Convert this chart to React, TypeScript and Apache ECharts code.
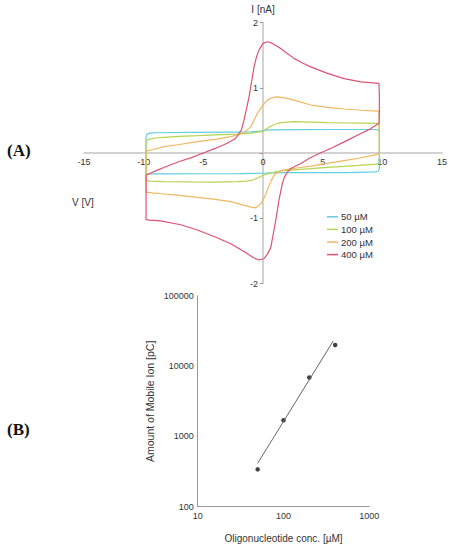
import React, { useEffect, useRef } from "react";
import * as echarts from "echarts";

// Panel A: cyclic voltammograms, [V, I(nA)]
const cv50: [number, number][] = [
  [-9.8, 0.25], [-9.7, 0.29], [-9.5, 0.305], [-9, 0.31], [-6, 0.315], [-3, 0.32], [-1, 0.325],
  [-0.2, 0.335], [0.2, 0.35], [1, 0.355], [3, 0.358], [6, 0.36], [9, 0.36], [9.6, 0.36],
  [9.75, 0.33], [9.75, -0.24], [9.65, -0.28], [9.4, -0.29], [7, -0.3], [4, -0.3], [2, -0.302],
  [0.5, -0.305], [0, -0.31], [-2, -0.315], [-5, -0.318], [-8, -0.32], [-9.6, -0.32], [-9.8, -0.31],
  [-9.8, 0.25],
];
const cv100: [number, number][] = [
  [-9.8, 0.19], [-9.6, 0.21], [-9, 0.23], [-8.3, 0.24], [-7, 0.255], [-5.5, 0.265], [-4, 0.278],
  [-2.2, 0.29], [-1, 0.305], [0, 0.33], [0.3, 0.37], [0.65, 0.41], [1, 0.44], [1.5, 0.465],
  [2.6, 0.48], [4, 0.474], [5.4, 0.465], [7, 0.46], [8.5, 0.457], [9.7, 0.455], [9.75, 0.3],
  [9.75, -0.15], [9.5, -0.17], [8, -0.19], [6.8, -0.205], [5.4, -0.22], [4, -0.24], [2.8, -0.255],
  [2, -0.265], [1.2, -0.28], [0.6, -0.31], [0, -0.34], [-0.4, -0.38], [-0.8, -0.41], [-1.4, -0.43],
  [-2.2, -0.44], [-4, -0.445], [-6, -0.444], [-8.3, -0.44], [-9.5, -0.43], [-9.8, -0.42], [-9.8, 0.19],
];
const cv200: [number, number][] = [
  [-9.8, 0.03], [-9.3, 0.05], [-8.3, 0.097], [-7, 0.13], [-5.5, 0.173], [-4, 0.21], [-2.7, 0.25],
  [-2.1, 0.28], [-1.6, 0.31], [-1.03, 0.4], [-0.47, 0.61], [0, 0.735], [0.37, 0.81], [0.8, 0.85],
  [1.2, 0.86], [1.8, 0.845], [2.6, 0.81], [4, 0.735], [5.4, 0.7], [6.8, 0.674], [8.2, 0.655],
  [9.7, 0.643], [9.75, 0.5], [9.75, -0.01], [9.4, -0.03], [8, -0.08], [6.8, -0.117], [5.4, -0.16],
  [4, -0.2], [2.8, -0.23], [2.05, -0.25], [1.5, -0.27], [1, -0.32], [0.7, -0.42], [0.4, -0.55],
  [0.1, -0.69], [-0.2, -0.78], [-0.6, -0.84], [-1, -0.83], [-1.8, -0.79], [-2.7, -0.745],
  [-4, -0.71], [-5.5, -0.68], [-7, -0.65], [-8.3, -0.628], [-9.3, -0.61], [-9.8, -0.6], [-9.8, 0.03],
];
const cv400: [number, number][] = [
  [-9.8, -0.34], [-9.2, -0.29], [-8, -0.2], [-7, -0.13], [-6, -0.07], [-5, 0], [-4, 0.07],
  [-3, 0.15], [-2.4, 0.21], [-2.1, 0.27], [-1.8, 0.36], [-1.6, 0.5], [-1.4, 0.66], [-1.17, 0.86],
  [-0.95, 1.1], [-0.75, 1.32], [-0.55, 1.47], [-0.33, 1.58], [0, 1.68], [0.37, 1.705], [0.8, 1.68],
  [1.48, 1.6], [2, 1.53], [2.6, 1.45], [3.3, 1.38], [4, 1.32], [5.4, 1.22], [6.8, 1.14], [8.2, 1.09],
  [9.72, 1.067], [9.75, 0.9], [9.75, 0.6], [9.72, 0.455], [9, 0.37], [8.2, 0.3], [6.8, 0.17],
  [5.8, 0.08], [4.8, 0], [4, -0.07], [3.16, -0.16], [2.4, -0.23], [2.05, -0.29], [1.8, -0.37],
  [1.63, -0.46], [1.34, -0.72], [1.1, -1.0], [0.92, -1.18], [0.65, -1.45], [0.37, -1.55],
  [0.08, -1.62], [-0.33, -1.64], [-0.75, -1.61], [-1.6, -1.51], [-2.7, -1.39], [-4.1, -1.28],
  [-5.5, -1.18], [-6.9, -1.1], [-8.58, -1.04], [-9.5, -1.03], [-9.8, -1.02], [-9.8, -0.34],
];
const cvNames = ["50 µM", "100 µM", "200 µM", "400 µM"];
const cvColors = ["#62cde3", "#b5d44f", "#f0b860", "#dd5272"];

// Panel B: log-log
const concentration = [50, 100, 200, 400];
const mobileIon = [340, 1700, 6900, 20100];
const fitLine: [number, number][] = [[50, 415], [380, 22900]];

const font = 'Arial, "Liberation Sans", sans-serif';

export default function App() {
  const ref = useRef<HTMLDivElement>(null);
  useEffect(() => {
    document.body.style.margin = "0";
    const chart = echarts.init(ref.current!, null, { renderer: "svg" });
    const cvData = [cv50, cv100, cv200, cv400];
    const gA = { left: 84, top: 22.5, width: 358, height: 261 };
    const option: any = {
      animation: false,
      textStyle: { fontFamily: font },
      grid: [
        gA,
        { left: 197.7, top: 296, width: 171.6, height: 210.7 },
      ],
      xAxis: [
        {
          gridIndex: 0, type: "value", min: -15, max: 15, interval: 5,
          position: "bottom", offset: -gA.height / 2,
          axisLine: { onZero: false, lineStyle: { color: "#c4c4c4", width: 1.5 } },
          axisTick: { show: false },
          splitLine: { show: false },
          axisLabel: { color: "#333", fontSize: 9, margin: 4, fontFamily: font },
        },
        {
          gridIndex: 1, type: "log", logBase: 10, min: 10, max: 1000,
          axisLine: { lineStyle: { color: "#999", width: 1 } },
          axisTick: { show: false },
          splitLine: { show: false },
          axisLabel: { color: "#333", fontSize: 9, margin: 5, fontFamily: font, formatter: (v: number) => String(Math.round(v)) },
          name: "Oligonucleotide conc. [µM]", nameLocation: "middle", nameGap: 27,
          nameTextStyle: { color: "#333", fontSize: 10, fontFamily: font },
        },
      ],
      yAxis: [
        {
          gridIndex: 0, type: "value", min: -2, max: 2, interval: 1,
          position: "left", offset: -gA.width / 2,
          axisLine: { onZero: false, lineStyle: { color: "#c4c4c4", width: 1.5 } },
          axisTick: { show: true, length: 3, lineStyle: { color: "#999" } },
          splitLine: { show: false },
          axisLabel: { color: "#333", fontSize: 9, margin: 5, fontFamily: font, formatter: (v: number) => (v === 0 ? "" : String(v)) },
          name: "I [nA]", nameLocation: "end", nameGap: 8,
          nameTextStyle: { color: "#333", fontSize: 10, fontFamily: font },
        },
        {
          gridIndex: 1, type: "log", logBase: 10, min: 100, max: 100000,
          axisLine: { lineStyle: { color: "#999", width: 1 } },
          axisTick: { show: false },
          splitLine: { show: false },
          axisLabel: { color: "#333", fontSize: 9, margin: 4, fontFamily: font, formatter: (v: number) => String(Math.round(v)) },
          name: "Amount of Mobile Ion [pC]", nameLocation: "middle", nameGap: 42,
          nameTextStyle: { color: "#333", fontSize: 10.5, fontFamily: font },
        },
      ],
      legend: {
        orient: "vertical", left: 322, top: 206, icon: "rect", itemWidth: 11, itemHeight: 1.5,
        itemGap: 1, data: cvNames,
        textStyle: { fontSize: 9.5, color: "#333", fontFamily: font, lineHeight: 11.6, padding: [0, 0, 0, -2] },
      },
      series: [
        ...cvData.map((d, i) => ({
          name: cvNames[i], type: "line", xAxisIndex: 0, yAxisIndex: 0, data: d,
          showSymbol: false, symbol: "none", smooth: false,
          lineStyle: { color: cvColors[i], width: 1.2 }, itemStyle: { color: cvColors[i] },
          z: 2 + i,
        })),
        {
          name: "fit", type: "line", xAxisIndex: 1, yAxisIndex: 1, data: fitLine,
          showSymbol: false, symbol: "none", lineStyle: { color: "#666", width: 1 },
        },
        {
          name: "data", type: "scatter", xAxisIndex: 1, yAxisIndex: 1,
          data: concentration.map((c, i) => [c, mobileIon[i]]),
          symbol: "circle", symbolSize: 4.5, itemStyle: { color: "#111" },
        },
      ],
      graphic: [
        { type: "text", left: 7, top: 142, style: { text: "(A)", font: 'bold 17px "Times New Roman", "Liberation Serif", serif', fill: "#111" } },
        { type: "text", left: 7, top: 421, style: { text: "(B)", font: 'bold 17px "Times New Roman", "Liberation Serif", serif', fill: "#111" } },
        { type: "text", left: 72, top: 197, style: { text: "V [V]", font: `10px ${font}`, fill: "#333" } },
      ],
    };
    chart.setOption(option);
    return () => chart.dispose();
  }, []);
  return <div ref={ref} style={{ position: "absolute", left: 0, top: 0, width: 455, height: 550 }} />;
}
